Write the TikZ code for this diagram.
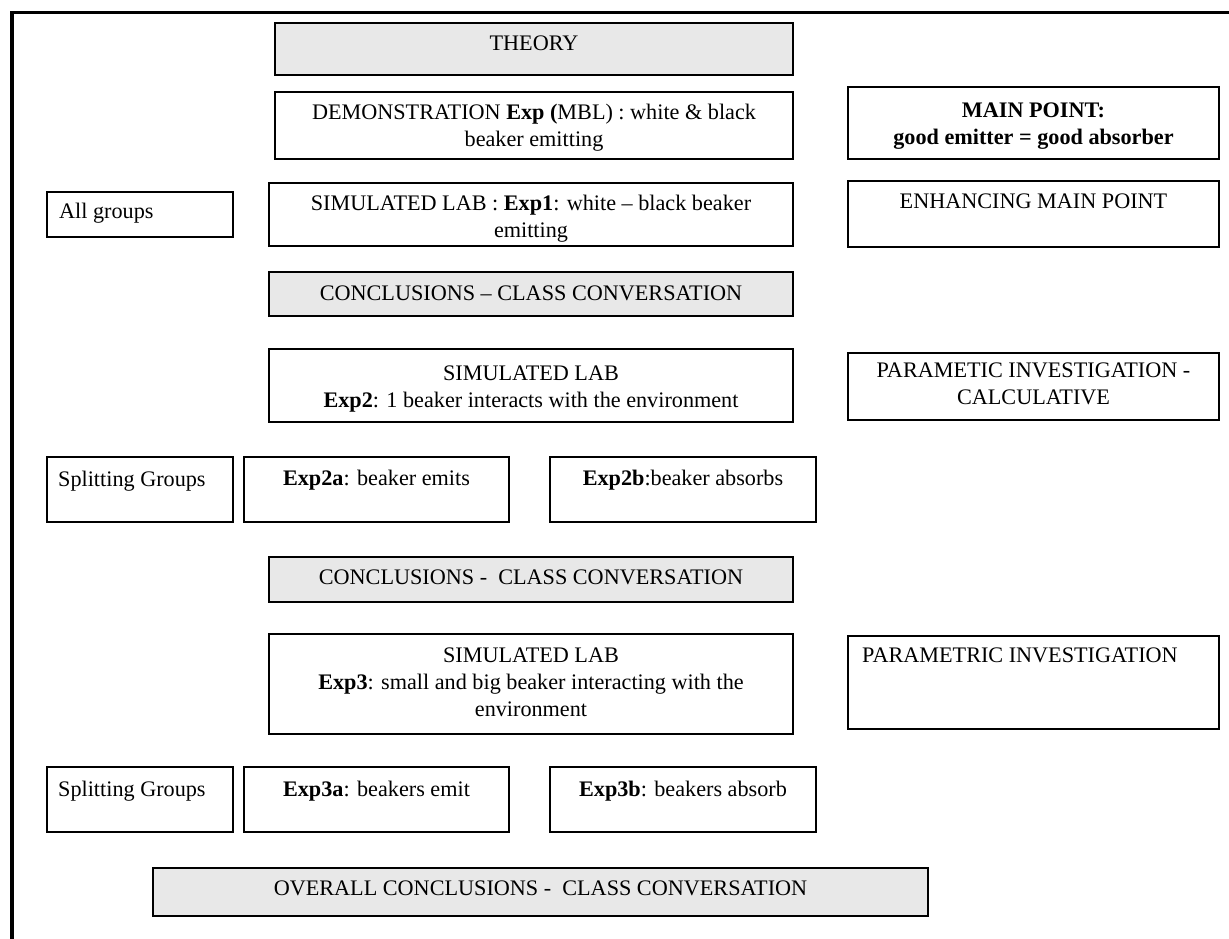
\documentclass[tikz,border=0pt]{standalone}
\usepackage{fontspec}
\setmainfont{Liberation Serif}
\definecolor{boxgray}{RGB}{232,232,232}

\begin{document}
\begin{tikzpicture}[x=1pt,y=-1pt,
        panel/.style={draw=black,line width=1.5pt},
        greypanel/.style={panel,fill=boxgray},
        boxtext/.style={anchor=north,inner sep=0pt,align=center,font=\fontsize{22.2}{27}\selectfont},
        boxtextleft/.style={boxtext,anchor=north west,align=left}]
                \useasboundingbox (0,0) rectangle (1229,939);
                \draw [line width=3.5pt] (1229,12.5) -- (12,12.5) -- (12,939);
                \draw [greypanel] (275,23) rectangle (793,75);
                \node [boxtext] (theory) at (534,31) {\strut THEORY};
                \draw [panel] (275,92) rectangle (793,159);
                \node [boxtext] (demo) at (534,100) {\strut DEMONSTRATION \textbf{Exp (}MBL) : white \& black\\beaker emitting};
                \draw [panel] (848,87) rectangle (1219,159);
                \node [boxtext] (mainpoint) at (1033.5,98) {\strut\textbf{MAIN POINT:}\\\textbf{good emitter = good absorber}};
                \draw [panel] (47,192) rectangle (233,237);
                \node [boxtextleft] (allgroups) at (59,199) {\strut All groups};
                \draw [panel] (269,183) rectangle (793,246);
                \node [boxtext] (simlab1) at (531,191) {\strut SIMULATED LAB : \textbf{Exp1}: white -- black beaker\\emitting};
                \draw [panel] (848,181) rectangle (1219,247);
                \node [boxtext] (enhancing) at (1033.5,189) {\strut ENHANCING MAIN POINT};
                \draw [greypanel] (269,272) rectangle (793,316);
                \node [boxtext] (concl1) at (531,281) {\strut CONCLUSIONS -- CLASS CONVERSATION};
                \draw [panel] (269,349) rectangle (793,422);
                \node [boxtext] (simlab2) at (531,361) {\strut SIMULATED LAB\\\textbf{Exp2}: 1 beaker interacts with the environment};
                \draw [panel] (848,353) rectangle (1219,420);
                \node [boxtext] (parametic) at (1033.5,358) {\strut PARAMETIC INVESTIGATION -\\CALCULATIVE};
                \draw [panel] (47,457) rectangle (233,522);
                \node [boxtextleft] (split2) at (58,467) {\strut Splitting Groups};
                \draw [panel] (244,457) rectangle (509,522);
                \node [boxtext] (exp2a) at (376.5,466) {\strut\textbf{Exp2a}: beaker emits};
                \draw [panel] (550,457) rectangle (816,522);
                \node [boxtext] (exp2b) at (683,466) {\strut\textbf{Exp2b}:beaker absorbs};
                \draw [greypanel] (269,557) rectangle (793,602);
                \node [boxtext] (concl2) at (531,565) {\strut CONCLUSIONS -\ \ CLASS CONVERSATION};
                \draw [panel] (269,634) rectangle (793,734);
                \node [boxtext] (simlab3) at (531,643) {\strut SIMULATED LAB\\\textbf{Exp3}: small and big beaker interacting with the\\environment};
                \draw [panel] (848,636) rectangle (1219,729);
                \node [boxtextleft] (parametric) at (862,643) {\strut PARAMETRIC INVESTIGATION};
                \draw [panel] (47,767) rectangle (233,832);
                \node [boxtextleft] (split3) at (58,777) {\strut Splitting Groups};
                \draw [panel] (244,767) rectangle (509,832);
                \node [boxtext] (exp3a) at (376.5,777) {\strut\textbf{Exp3a}: beakers emit};
                \draw [panel] (550,767) rectangle (816,832);
                \node [boxtext] (exp3b) at (683,777) {\strut\textbf{Exp3b}: beakers absorb};
                \draw [greypanel] (153,868) rectangle (928,916);
                \node [boxtext] (overall) at (540.5,876) {\strut OVERALL CONCLUSIONS -\ \ CLASS CONVERSATION};
\end{tikzpicture}
\end{document}
